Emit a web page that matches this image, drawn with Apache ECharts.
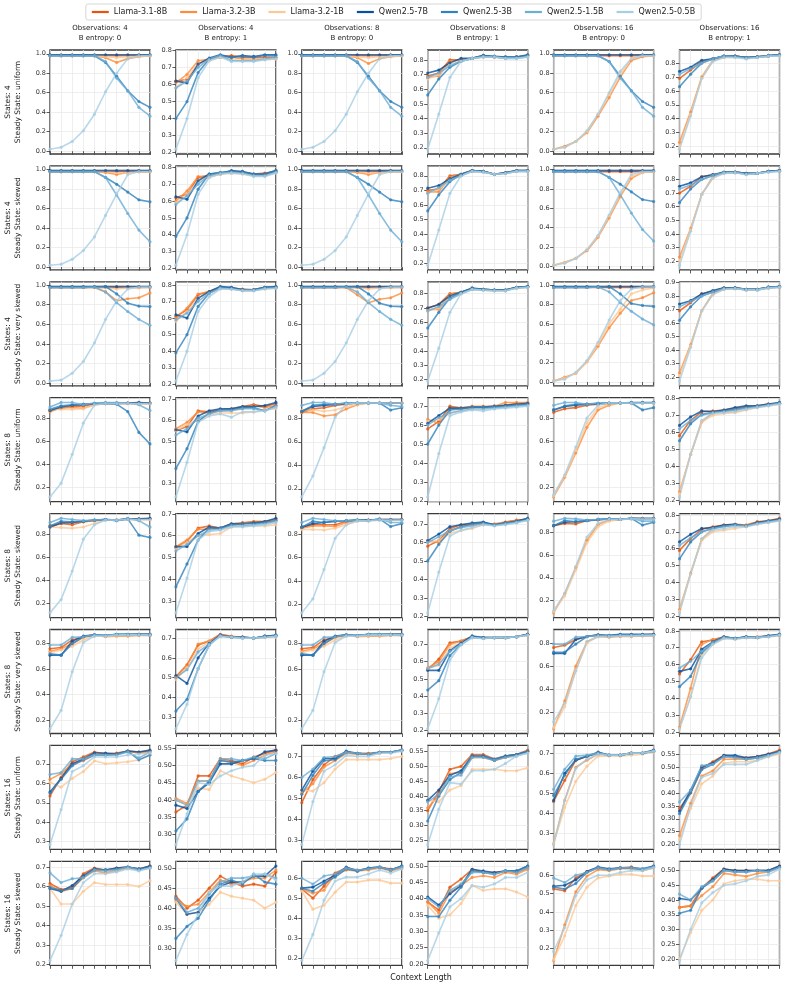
<!DOCTYPE html>
<html>
<head>
<meta charset="utf-8">
<script src="https://cdn.jsdelivr.net/npm/echarts@6/dist/echarts.min.js"></script>
<style>
  html, body { margin: 0; padding: 0; background: #fff; }
  #chart { width: 787px; height: 990px; }
</style>
</head>
<body>
<div id="chart"></div>
<script>
const models = ["Llama-3.1-8B", "Llama-3.2-3B", "Llama-3.2-1B", "Qwen2.5-7B", "Qwen2.5-3B", "Qwen2.5-1.5B", "Qwen2.5-0.5B"];
const colors = ["#e6550d", "#fd8d3c", "#fdc896", "#08519c", "#3182bd", "#6baed6", "#a6cee4"];
const contextSteps = [0, 1, 2, 3, 4, 5, 6, 7, 8, 9];
const colTitles = [
  ["Observations: 4", "B entropy: 0"], ["Observations: 4", "B entropy: 1"],
  ["Observations: 8", "B entropy: 0"], ["Observations: 8", "B entropy: 1"],
  ["Observations: 16", "B entropy: 0"], ["Observations: 16", "B entropy: 1"]
];
const rowLabels = [
  ["States: 4", "Steady State: uniform"], ["States: 4", "Steady State: skewed"],
  ["States: 4", "Steady State: very skewed"], ["States: 8", "Steady State: uniform"],
  ["States: 8", "Steady State: skewed"], ["States: 8", "Steady State: very skewed"],
  ["States: 16", "Steady State: uniform"], ["States: 16", "Steady State: skewed"]
];
// y tick step per row/col
const tickSteps = [
  [0.2, 0.1, 0.2, 0.1, 0.2, 0.1],
  [0.2, 0.1, 0.2, 0.1, 0.2, 0.1],
  [0.2, 0.1, 0.2, 0.1, 0.2, 0.1],
  [0.2, 0.1, 0.2, 0.1, 0.2, 0.1],
  [0.2, 0.1, 0.2, 0.1, 0.2, 0.1],
  [0.2, 0.1, 0.2, 0.1, 0.2, 0.1],
  [0.1, 0.05, 0.1, 0.05, 0.1, 0.05],
  [0.1, 0.05, 0.1, 0.05, 0.1, 0.05]
];

// each panel: one row per model, in the order of `models`
// --- States 4, uniform ---
const r1c1 = [
  [0.98,0.98,0.98,0.98,0.98,0.98,0.98,0.98,0.98,0.98],
  [0.98,0.98,0.98,0.98,0.98,0.96,0.91,0.95,0.97,0.98],
  [0.98,0.98,0.98,0.98,0.98,0.97,0.96,0.97,0.97,0.98],
  [0.99,0.99,0.99,0.99,0.99,0.99,0.99,0.99,0.99,0.99],
  [0.98,0.98,0.98,0.98,0.98,0.91,0.77,0.62,0.51,0.45],
  [0.98,0.98,0.98,0.98,0.98,0.92,0.75,0.62,0.45,0.36],
  [0.02,0.04,0.10,0.21,0.38,0.61,0.80,0.95,0.98,0.98]
];
const r1c2 = [
  [0.62,0.63,0.72,0.75,0.76,0.77,0.76,0.76,0.76,0.76],
  [0.61,0.66,0.74,0.75,0.76,0.76,0.75,0.75,0.75,0.75],
  [0.58,0.64,0.72,0.74,0.76,0.75,0.74,0.74,0.75,0.75],
  [0.62,0.61,0.72,0.755,0.775,0.76,0.77,0.765,0.775,0.775],
  [0.40,0.50,0.67,0.75,0.77,0.76,0.765,0.76,0.77,0.77],
  [0.58,0.62,0.70,0.75,0.77,0.74,0.74,0.74,0.75,0.76],
  [0.22,0.40,0.64,0.74,0.76,0.735,0.735,0.735,0.745,0.75]
];
const r1c3 = [
  [0.98,0.98,0.98,0.98,0.98,0.98,0.98,0.98,0.98,0.98],
  [0.98,0.98,0.98,0.98,0.98,0.96,0.90,0.95,0.97,0.98],
  [0.98,0.98,0.98,0.98,0.98,0.97,0.96,0.97,0.97,0.98],
  [0.99,0.99,0.99,0.99,0.99,0.99,0.99,0.99,0.99,0.99],
  [0.98,0.98,0.98,0.98,0.98,0.91,0.77,0.62,0.51,0.45],
  [0.98,0.98,0.98,0.98,0.98,0.92,0.75,0.62,0.45,0.36],
  [0.02,0.04,0.10,0.21,0.38,0.61,0.80,0.95,0.98,0.98]
];
const r1c4 = [
  [0.69,0.71,0.80,0.80,0.81,0.83,0.82,0.815,0.82,0.83],
  [0.68,0.69,0.79,0.80,0.81,0.82,0.82,0.81,0.82,0.83],
  [0.67,0.70,0.77,0.79,0.81,0.82,0.82,0.81,0.82,0.82],
  [0.71,0.73,0.78,0.81,0.81,0.83,0.825,0.82,0.82,0.835],
  [0.56,0.67,0.75,0.79,0.81,0.83,0.82,0.82,0.82,0.83],
  [0.68,0.71,0.76,0.79,0.81,0.82,0.82,0.81,0.81,0.82],
  [0.19,0.43,0.68,0.79,0.81,0.82,0.82,0.81,0.81,0.82]
];
const r1c5 = [
  [0.98,0.98,0.98,0.98,0.98,0.98,0.98,0.98,0.98,0.98],
  [0.02,0.05,0.10,0.19,0.36,0.55,0.76,0.93,0.97,0.98],
  [0.02,0.04,0.10,0.20,0.38,0.58,0.79,0.95,0.98,0.98],
  [0.99,0.99,0.99,0.99,0.99,0.99,0.99,0.99,0.99,0.99],
  [0.98,0.98,0.98,0.98,0.98,0.92,0.77,0.62,0.51,0.45],
  [0.98,0.98,0.98,0.98,0.98,0.92,0.75,0.62,0.45,0.36],
  [0.02,0.04,0.10,0.21,0.38,0.60,0.82,0.95,0.98,0.98]
];
const r1c6 = [
  [0.69,0.75,0.81,0.83,0.85,0.85,0.84,0.845,0.85,0.86],
  [0.23,0.45,0.70,0.82,0.84,0.85,0.84,0.845,0.85,0.855],
  [0.20,0.43,0.69,0.82,0.84,0.84,0.835,0.84,0.85,0.85],
  [0.74,0.77,0.82,0.83,0.85,0.85,0.84,0.845,0.855,0.86],
  [0.63,0.72,0.80,0.83,0.85,0.85,0.84,0.845,0.85,0.86],
  [0.72,0.76,0.80,0.83,0.85,0.845,0.835,0.84,0.85,0.855],
  [0.18,0.42,0.69,0.81,0.84,0.84,0.83,0.84,0.85,0.85]
];
// --- States 4, skewed ---
const r2c1 = [
  [0.98,0.98,0.98,0.98,0.98,0.98,0.98,0.98,0.98,0.98],
  [0.98,0.98,0.98,0.98,0.98,0.97,0.95,0.97,0.98,0.98],
  [0.98,0.98,0.98,0.98,0.98,0.98,0.97,0.97,0.98,0.98],
  [0.99,0.99,0.99,0.99,0.99,0.99,0.99,0.99,0.99,0.99],
  [0.98,0.98,0.98,0.98,0.98,0.92,0.85,0.77,0.69,0.67],
  [0.98,0.98,0.98,0.98,0.98,0.92,0.74,0.55,0.38,0.26],
  [0.02,0.03,0.08,0.17,0.31,0.53,0.75,0.95,0.98,0.98]
];
const r2c2 = [
  [0.62,0.64,0.74,0.75,0.76,0.775,0.77,0.76,0.765,0.775],
  [0.60,0.66,0.745,0.75,0.76,0.77,0.765,0.755,0.76,0.77],
  [0.59,0.64,0.72,0.74,0.76,0.765,0.76,0.75,0.75,0.77],
  [0.625,0.61,0.72,0.76,0.765,0.78,0.775,0.76,0.76,0.78],
  [0.39,0.50,0.67,0.76,0.77,0.775,0.77,0.76,0.76,0.78],
  [0.58,0.63,0.70,0.75,0.765,0.77,0.765,0.75,0.75,0.77],
  [0.22,0.40,0.64,0.74,0.76,0.765,0.76,0.745,0.745,0.765]
];
const r2c3 = [
  [0.98,0.98,0.98,0.98,0.98,0.98,0.98,0.98,0.98,0.98],
  [0.98,0.98,0.98,0.98,0.98,0.97,0.95,0.97,0.98,0.98],
  [0.98,0.98,0.98,0.98,0.98,0.98,0.97,0.97,0.98,0.98],
  [0.99,0.99,0.99,0.99,0.99,0.99,0.99,0.99,0.99,0.99],
  [0.98,0.98,0.98,0.98,0.98,0.92,0.85,0.77,0.69,0.67],
  [0.98,0.98,0.98,0.98,0.98,0.92,0.74,0.55,0.38,0.26],
  [0.02,0.03,0.08,0.17,0.31,0.53,0.75,0.95,0.98,0.98]
];
const r2c4 = [
  [0.70,0.71,0.80,0.81,0.835,0.83,0.81,0.82,0.835,0.835],
  [0.69,0.69,0.79,0.81,0.83,0.83,0.81,0.82,0.83,0.835],
  [0.68,0.71,0.77,0.80,0.83,0.825,0.81,0.815,0.83,0.83],
  [0.715,0.733,0.78,0.81,0.835,0.83,0.81,0.82,0.835,0.835],
  [0.56,0.67,0.76,0.81,0.835,0.83,0.81,0.82,0.835,0.835],
  [0.68,0.72,0.77,0.80,0.83,0.825,0.81,0.815,0.83,0.83],
  [0.19,0.43,0.68,0.80,0.83,0.825,0.81,0.815,0.83,0.83]
];
const r2c5 = [
  [0.98,0.98,0.98,0.98,0.98,0.98,0.98,0.98,0.98,0.98],
  [0.01,0.04,0.08,0.16,0.30,0.50,0.72,0.91,0.97,0.98],
  [0.01,0.04,0.08,0.17,0.31,0.52,0.74,0.93,0.97,0.98],
  [0.99,0.99,0.99,0.99,0.99,0.99,0.99,0.99,0.99,0.99],
  [0.98,0.98,0.98,0.98,0.98,0.92,0.85,0.77,0.69,0.67],
  [0.98,0.98,0.98,0.98,0.98,0.92,0.74,0.55,0.38,0.26],
  [0.01,0.03,0.08,0.17,0.32,0.53,0.76,0.95,0.98,0.98]
];
const r2c6 = [
  [0.70,0.75,0.82,0.835,0.85,0.855,0.845,0.845,0.86,0.865],
  [0.23,0.44,0.69,0.82,0.85,0.85,0.84,0.845,0.86,0.86],
  [0.20,0.43,0.69,0.81,0.845,0.85,0.84,0.845,0.855,0.86],
  [0.75,0.775,0.82,0.835,0.855,0.855,0.845,0.845,0.86,0.865],
  [0.63,0.73,0.80,0.83,0.85,0.855,0.845,0.845,0.86,0.865],
  [0.73,0.76,0.80,0.83,0.85,0.85,0.84,0.845,0.855,0.86],
  [0.17,0.42,0.69,0.81,0.845,0.85,0.835,0.845,0.855,0.86]
];
// --- States 4, very skewed ---
const r3c1 = [
  [0.975,0.975,0.975,0.975,0.975,0.975,0.975,0.975,0.975,0.975],
  [0.975,0.975,0.975,0.975,0.975,0.93,0.84,0.86,0.87,0.92],
  [0.975,0.975,0.975,0.975,0.975,0.97,0.96,0.97,0.97,0.98],
  [0.985,0.985,0.985,0.985,0.985,0.985,0.985,0.985,0.985,0.985],
  [0.975,0.975,0.975,0.975,0.98,0.985,0.91,0.815,0.785,0.78],
  [0.975,0.975,0.975,0.975,0.98,0.93,0.82,0.73,0.65,0.59],
  [0.02,0.03,0.10,0.22,0.41,0.65,0.84,0.96,0.98,0.98]
];
const r3c2 = [
  [0.61,0.65,0.74,0.76,0.785,0.78,0.775,0.77,0.785,0.785],
  [0.60,0.66,0.745,0.76,0.78,0.78,0.77,0.77,0.78,0.785],
  [0.58,0.64,0.72,0.75,0.78,0.775,0.765,0.765,0.775,0.78],
  [0.62,0.60,0.72,0.76,0.79,0.785,0.77,0.77,0.785,0.79],
  [0.39,0.50,0.67,0.75,0.785,0.78,0.77,0.77,0.785,0.785],
  [0.59,0.63,0.70,0.75,0.78,0.775,0.765,0.765,0.78,0.78],
  [0.22,0.40,0.64,0.73,0.775,0.775,0.765,0.765,0.775,0.78]
];
const r3c3 = [
  [0.975,0.975,0.975,0.975,0.975,0.975,0.975,0.975,0.975,0.975],
  [0.975,0.975,0.975,0.975,0.975,0.90,0.82,0.855,0.87,0.92],
  [0.975,0.975,0.975,0.975,0.975,0.97,0.96,0.97,0.97,0.98],
  [0.985,0.985,0.985,0.985,0.985,0.985,0.985,0.985,0.985,0.985],
  [0.975,0.975,0.975,0.975,0.98,0.985,0.91,0.815,0.785,0.78],
  [0.975,0.975,0.975,0.975,0.98,0.93,0.82,0.73,0.65,0.59],
  [0.02,0.03,0.10,0.22,0.41,0.65,0.84,0.96,0.98,0.98]
];
const r3c4 = [
  [0.70,0.725,0.80,0.81,0.835,0.83,0.825,0.825,0.845,0.85],
  [0.69,0.69,0.795,0.81,0.835,0.83,0.825,0.825,0.84,0.845],
  [0.68,0.70,0.78,0.80,0.83,0.825,0.82,0.82,0.84,0.845],
  [0.70,0.725,0.785,0.81,0.84,0.83,0.825,0.825,0.845,0.85],
  [0.56,0.67,0.77,0.81,0.835,0.83,0.825,0.825,0.845,0.85],
  [0.68,0.71,0.76,0.80,0.83,0.825,0.82,0.82,0.84,0.845],
  [0.19,0.42,0.67,0.80,0.83,0.825,0.82,0.82,0.84,0.845]
];
const r3c5 = [
  [0.975,0.975,0.975,0.975,0.975,0.975,0.975,0.975,0.975,0.975],
  [0.01,0.05,0.09,0.21,0.37,0.56,0.71,0.84,0.87,0.92],
  [0.01,0.04,0.09,0.21,0.39,0.60,0.75,0.91,0.95,0.97],
  [0.985,0.985,0.985,0.985,0.985,0.985,0.985,0.985,0.985,0.985],
  [0.975,0.975,0.975,0.975,0.98,0.985,0.91,0.81,0.79,0.78],
  [0.975,0.975,0.975,0.975,0.98,0.93,0.82,0.73,0.65,0.59],
  [0.01,0.03,0.10,0.22,0.41,0.64,0.84,0.96,0.98,0.98]
];
const r3c6 = [
  [0.69,0.75,0.815,0.835,0.86,0.86,0.85,0.85,0.865,0.87],
  [0.23,0.44,0.69,0.82,0.85,0.855,0.845,0.845,0.86,0.865],
  [0.21,0.43,0.69,0.81,0.85,0.855,0.845,0.845,0.86,0.865],
  [0.74,0.765,0.815,0.84,0.86,0.86,0.85,0.85,0.865,0.87],
  [0.62,0.72,0.80,0.83,0.855,0.86,0.85,0.85,0.865,0.87],
  [0.72,0.76,0.80,0.83,0.855,0.855,0.845,0.845,0.86,0.865],
  [0.17,0.42,0.69,0.81,0.85,0.855,0.845,0.845,0.86,0.865]
];
// --- States 8, uniform ---
const r4c1 = [
  [0.87,0.89,0.905,0.91,0.925,0.93,0.93,0.935,0.935,0.935],
  [0.86,0.895,0.895,0.89,0.92,0.93,0.93,0.93,0.93,0.93],
  [0.88,0.88,0.88,0.885,0.92,0.93,0.93,0.93,0.93,0.93],
  [0.87,0.90,0.915,0.92,0.93,0.935,0.935,0.935,0.94,0.935],
  [0.88,0.91,0.92,0.925,0.93,0.93,0.925,0.86,0.68,0.58],
  [0.90,0.94,0.94,0.92,0.935,0.94,0.94,0.935,0.92,0.87],
  [0.12,0.24,0.49,0.76,0.92,0.93,0.93,0.93,0.93,0.93]
];
const r4c2 = [
  [0.55,0.57,0.645,0.64,0.65,0.655,0.665,0.675,0.665,0.68],
  [0.56,0.59,0.64,0.635,0.645,0.65,0.655,0.67,0.66,0.67],
  [0.55,0.58,0.60,0.625,0.635,0.635,0.635,0.64,0.65,0.655],
  [0.555,0.545,0.62,0.645,0.655,0.655,0.665,0.665,0.67,0.685],
  [0.37,0.465,0.595,0.635,0.65,0.65,0.66,0.66,0.645,0.67],
  [0.53,0.56,0.61,0.63,0.645,0.645,0.655,0.655,0.645,0.665],
  [0.235,0.40,0.59,0.62,0.63,0.615,0.64,0.64,0.645,0.66]
];
const r4c3 = [
  [0.85,0.88,0.89,0.91,0.92,0.93,0.93,0.93,0.93,0.93],
  [0.85,0.85,0.82,0.83,0.88,0.915,0.93,0.93,0.93,0.93],
  [0.87,0.87,0.86,0.87,0.90,0.92,0.93,0.93,0.93,0.93],
  [0.86,0.90,0.91,0.92,0.925,0.93,0.93,0.93,0.93,0.93],
  [0.86,0.91,0.92,0.92,0.93,0.93,0.93,0.93,0.87,0.89],
  [0.91,0.935,0.935,0.92,0.93,0.93,0.93,0.93,0.91,0.90],
  [0.13,0.31,0.55,0.81,0.92,0.93,0.93,0.93,0.93,0.93]
];
const r4c4 = [
  [0.58,0.62,0.70,0.69,0.695,0.695,0.70,0.705,0.715,0.715],
  [0.63,0.61,0.69,0.69,0.70,0.70,0.70,0.72,0.72,0.72],
  [0.62,0.63,0.66,0.68,0.69,0.69,0.70,0.70,0.71,0.71],
  [0.61,0.65,0.69,0.69,0.695,0.695,0.70,0.705,0.71,0.715],
  [0.50,0.60,0.68,0.685,0.695,0.695,0.695,0.70,0.705,0.71],
  [0.60,0.64,0.665,0.675,0.685,0.685,0.69,0.695,0.70,0.705],
  [0.22,0.45,0.65,0.67,0.68,0.675,0.685,0.69,0.695,0.70]
];
const r4c5 = [
  [0.85,0.88,0.89,0.91,0.92,0.925,0.93,0.93,0.93,0.93],
  [0.12,0.29,0.50,0.72,0.87,0.91,0.93,0.93,0.93,0.93],
  [0.13,0.30,0.52,0.76,0.89,0.92,0.93,0.93,0.93,0.93],
  [0.87,0.90,0.91,0.92,0.925,0.93,0.93,0.935,0.935,0.935],
  [0.87,0.905,0.92,0.92,0.925,0.93,0.93,0.93,0.87,0.89],
  [0.91,0.935,0.935,0.92,0.93,0.93,0.93,0.93,0.93,0.93],
  [0.14,0.31,0.55,0.80,0.91,0.93,0.93,0.93,0.93,0.93]
];
const r4c6 = [
  [0.58,0.67,0.72,0.725,0.73,0.74,0.75,0.755,0.765,0.77],
  [0.25,0.47,0.66,0.715,0.725,0.73,0.745,0.75,0.765,0.77],
  [0.24,0.47,0.66,0.70,0.71,0.715,0.73,0.745,0.755,0.765],
  [0.64,0.69,0.725,0.72,0.73,0.745,0.755,0.755,0.765,0.775],
  [0.55,0.65,0.705,0.715,0.725,0.735,0.745,0.75,0.76,0.77],
  [0.62,0.67,0.70,0.715,0.72,0.73,0.74,0.75,0.76,0.77],
  [0.22,0.47,0.67,0.71,0.715,0.72,0.735,0.745,0.755,0.765]
];
// --- States 8, skewed ---
const r5c1 = [
  [0.87,0.89,0.88,0.905,0.915,0.925,0.92,0.93,0.93,0.93],
  [0.86,0.89,0.895,0.905,0.915,0.92,0.92,0.925,0.925,0.925],
  [0.86,0.855,0.85,0.86,0.89,0.92,0.92,0.925,0.925,0.925],
  [0.86,0.895,0.90,0.91,0.92,0.925,0.92,0.93,0.93,0.935],
  [0.87,0.91,0.905,0.91,0.92,0.925,0.915,0.93,0.79,0.77],
  [0.90,0.935,0.925,0.915,0.92,0.925,0.915,0.935,0.915,0.86],
  [0.12,0.235,0.48,0.755,0.88,0.92,0.92,0.925,0.925,0.925]
];
const r5c2 = [
  [0.545,0.575,0.635,0.645,0.635,0.655,0.66,0.665,0.665,0.675],
  [0.55,0.58,0.63,0.63,0.635,0.65,0.655,0.665,0.665,0.67],
  [0.54,0.57,0.60,0.605,0.61,0.64,0.645,0.645,0.645,0.65],
  [0.55,0.55,0.61,0.64,0.635,0.655,0.655,0.66,0.665,0.68],
  [0.365,0.47,0.58,0.635,0.635,0.65,0.655,0.655,0.66,0.67],
  [0.53,0.56,0.60,0.625,0.63,0.645,0.645,0.65,0.655,0.665],
  [0.245,0.405,0.58,0.62,0.625,0.64,0.64,0.645,0.65,0.66]
];
const r5c3 = [
  [0.86,0.88,0.88,0.88,0.91,0.92,0.92,0.925,0.925,0.925],
  [0.85,0.87,0.87,0.865,0.90,0.915,0.92,0.92,0.92,0.92],
  [0.84,0.84,0.835,0.85,0.88,0.91,0.915,0.92,0.92,0.92],
  [0.86,0.89,0.90,0.91,0.915,0.92,0.92,0.925,0.925,0.925],
  [0.86,0.91,0.90,0.91,0.915,0.92,0.915,0.93,0.865,0.89],
  [0.90,0.935,0.925,0.915,0.915,0.92,0.915,0.93,0.90,0.90],
  [0.13,0.25,0.50,0.765,0.88,0.915,0.915,0.92,0.92,0.92]
];
const r5c4 = [
  [0.58,0.61,0.675,0.695,0.70,0.705,0.695,0.71,0.72,0.725],
  [0.61,0.60,0.665,0.685,0.695,0.70,0.70,0.71,0.72,0.725],
  [0.60,0.61,0.65,0.665,0.675,0.695,0.695,0.70,0.71,0.72],
  [0.61,0.645,0.685,0.695,0.705,0.71,0.695,0.705,0.715,0.73],
  [0.50,0.59,0.66,0.685,0.70,0.705,0.695,0.705,0.71,0.725],
  [0.60,0.63,0.665,0.68,0.69,0.70,0.69,0.70,0.71,0.72],
  [0.22,0.44,0.635,0.665,0.68,0.695,0.69,0.695,0.705,0.72]
];
const r5c5 = [
  [0.86,0.88,0.875,0.905,0.91,0.92,0.915,0.925,0.92,0.92],
  [0.09,0.26,0.49,0.73,0.87,0.91,0.915,0.92,0.92,0.92],
  [0.10,0.24,0.47,0.71,0.85,0.90,0.915,0.92,0.92,0.92],
  [0.86,0.89,0.895,0.905,0.915,0.92,0.915,0.925,0.925,0.925],
  [0.86,0.905,0.895,0.905,0.915,0.92,0.915,0.925,0.865,0.89],
  [0.90,0.925,0.92,0.91,0.915,0.92,0.915,0.925,0.90,0.90],
  [0.11,0.26,0.50,0.76,0.88,0.915,0.915,0.92,0.92,0.92]
];
const r5c6 = [
  [0.59,0.66,0.715,0.73,0.74,0.745,0.74,0.76,0.765,0.78],
  [0.24,0.455,0.655,0.72,0.735,0.74,0.74,0.75,0.76,0.77],
  [0.23,0.45,0.65,0.70,0.71,0.72,0.73,0.745,0.755,0.765],
  [0.64,0.685,0.72,0.725,0.74,0.745,0.735,0.755,0.765,0.775],
  [0.54,0.64,0.70,0.72,0.735,0.74,0.735,0.75,0.76,0.77],
  [0.62,0.665,0.70,0.72,0.73,0.74,0.735,0.75,0.76,0.77],
  [0.22,0.45,0.66,0.71,0.72,0.73,0.73,0.745,0.755,0.765]
];
// --- States 8, very skewed ---
const r6c1 = [
  [0.76,0.77,0.83,0.855,0.87,0.86,0.87,0.87,0.875,0.875],
  [0.74,0.76,0.80,0.85,0.865,0.855,0.86,0.86,0.865,0.865],
  [0.73,0.75,0.78,0.83,0.86,0.86,0.865,0.865,0.87,0.87],
  [0.71,0.71,0.82,0.86,0.87,0.865,0.875,0.875,0.875,0.875],
  [0.72,0.71,0.80,0.855,0.87,0.865,0.875,0.875,0.875,0.875],
  [0.79,0.79,0.85,0.855,0.87,0.865,0.87,0.87,0.87,0.865],
  [0.13,0.275,0.58,0.81,0.86,0.86,0.87,0.87,0.87,0.87]
];
const r6c2 = [
  [0.505,0.565,0.665,0.685,0.72,0.71,0.705,0.70,0.71,0.71],
  [0.50,0.56,0.67,0.685,0.715,0.705,0.705,0.70,0.705,0.71],
  [0.49,0.55,0.645,0.68,0.71,0.705,0.70,0.70,0.705,0.71],
  [0.51,0.47,0.60,0.675,0.715,0.705,0.705,0.70,0.71,0.715],
  [0.33,0.39,0.545,0.665,0.715,0.705,0.705,0.70,0.71,0.715],
  [0.50,0.54,0.63,0.67,0.71,0.705,0.70,0.70,0.705,0.71],
  [0.24,0.365,0.545,0.665,0.71,0.705,0.70,0.70,0.705,0.71]
];
const r6c3 = [
  [0.76,0.77,0.83,0.855,0.87,0.86,0.87,0.87,0.875,0.875],
  [0.74,0.76,0.80,0.85,0.865,0.855,0.86,0.86,0.865,0.865],
  [0.73,0.75,0.78,0.83,0.86,0.86,0.865,0.865,0.87,0.87],
  [0.71,0.71,0.82,0.86,0.87,0.865,0.875,0.875,0.875,0.875],
  [0.72,0.71,0.80,0.855,0.87,0.865,0.875,0.875,0.875,0.875],
  [0.79,0.79,0.85,0.855,0.87,0.865,0.87,0.87,0.87,0.865],
  [0.13,0.275,0.58,0.81,0.86,0.86,0.87,0.87,0.87,0.87]
];
const r6c4 = [
  [0.555,0.615,0.71,0.72,0.745,0.735,0.74,0.74,0.745,0.76],
  [0.565,0.60,0.70,0.72,0.745,0.74,0.74,0.74,0.745,0.755],
  [0.56,0.58,0.68,0.71,0.745,0.735,0.74,0.74,0.745,0.755],
  [0.55,0.55,0.665,0.71,0.75,0.74,0.74,0.74,0.745,0.76],
  [0.435,0.49,0.635,0.70,0.745,0.74,0.74,0.74,0.745,0.76],
  [0.56,0.585,0.66,0.70,0.74,0.735,0.74,0.74,0.745,0.755],
  [0.21,0.385,0.61,0.70,0.74,0.735,0.74,0.74,0.745,0.755]
];
const r6c5 = [
  [0.76,0.78,0.83,0.855,0.87,0.855,0.87,0.87,0.87,0.875],
  [0.06,0.30,0.60,0.81,0.855,0.85,0.855,0.855,0.86,0.86],
  [0.07,0.25,0.56,0.80,0.855,0.855,0.86,0.86,0.865,0.865],
  [0.71,0.71,0.83,0.855,0.87,0.865,0.875,0.875,0.875,0.875],
  [0.72,0.72,0.79,0.855,0.865,0.86,0.87,0.87,0.87,0.87],
  [0.79,0.79,0.85,0.855,0.865,0.86,0.865,0.865,0.865,0.865],
  [0.12,0.28,0.56,0.81,0.855,0.855,0.86,0.86,0.865,0.865]
];
const r6c6 = [
  [0.545,0.63,0.735,0.745,0.765,0.755,0.765,0.765,0.77,0.775],
  [0.23,0.46,0.72,0.75,0.76,0.755,0.76,0.76,0.765,0.775],
  [0.22,0.41,0.66,0.72,0.755,0.75,0.76,0.76,0.765,0.77],
  [0.56,0.575,0.69,0.735,0.765,0.755,0.765,0.76,0.77,0.78],
  [0.47,0.53,0.67,0.73,0.765,0.755,0.765,0.76,0.77,0.775],
  [0.58,0.62,0.68,0.73,0.76,0.755,0.76,0.76,0.765,0.775],
  [0.22,0.41,0.64,0.72,0.755,0.75,0.76,0.76,0.765,0.775]
];
// --- States 16, uniform ---
const r7c1 = [
  [0.535,0.63,0.71,0.735,0.76,0.75,0.755,0.765,0.76,0.765],
  [0.62,0.65,0.70,0.715,0.745,0.745,0.745,0.765,0.755,0.76],
  [0.605,0.58,0.625,0.66,0.715,0.70,0.705,0.71,0.72,0.745],
  [0.555,0.625,0.70,0.725,0.755,0.755,0.75,0.765,0.76,0.77],
  [0.55,0.62,0.69,0.72,0.745,0.745,0.75,0.765,0.72,0.745],
  [0.645,0.655,0.725,0.725,0.745,0.745,0.745,0.76,0.73,0.76],
  [0.285,0.465,0.66,0.69,0.735,0.735,0.735,0.745,0.75,0.755]
];
const r7c2 = [
  [0.365,0.385,0.47,0.47,0.52,0.515,0.505,0.525,0.535,0.545],
  [0.405,0.39,0.455,0.455,0.515,0.51,0.50,0.515,0.53,0.54],
  [0.40,0.385,0.435,0.43,0.485,0.47,0.46,0.45,0.46,0.48],
  [0.385,0.375,0.425,0.45,0.505,0.505,0.515,0.52,0.54,0.545],
  [0.31,0.345,0.425,0.455,0.515,0.51,0.515,0.52,0.515,0.515],
  [0.40,0.385,0.455,0.455,0.52,0.52,0.515,0.525,0.52,0.535],
  [0.27,0.36,0.45,0.445,0.47,0.485,0.495,0.50,0.53,0.535]
];
const r7c3 = [
  [0.48,0.59,0.66,0.70,0.72,0.715,0.715,0.72,0.72,0.73],
  [0.525,0.57,0.65,0.68,0.715,0.71,0.71,0.715,0.72,0.73],
  [0.54,0.535,0.575,0.64,0.685,0.685,0.685,0.685,0.69,0.70],
  [0.54,0.63,0.69,0.69,0.725,0.715,0.71,0.72,0.72,0.73],
  [0.52,0.61,0.68,0.685,0.72,0.715,0.71,0.72,0.72,0.73],
  [0.60,0.64,0.695,0.70,0.72,0.715,0.71,0.72,0.72,0.73],
  [0.28,0.485,0.63,0.66,0.705,0.70,0.70,0.715,0.715,0.725]
];
const r7c4 = [
  [0.35,0.415,0.49,0.50,0.54,0.54,0.525,0.535,0.54,0.555],
  [0.36,0.40,0.475,0.48,0.53,0.53,0.52,0.53,0.54,0.55],
  [0.385,0.38,0.42,0.435,0.49,0.49,0.49,0.485,0.485,0.495],
  [0.385,0.42,0.47,0.485,0.535,0.535,0.52,0.535,0.54,0.55],
  [0.315,0.40,0.455,0.48,0.535,0.535,0.525,0.535,0.54,0.55],
  [0.38,0.405,0.465,0.47,0.53,0.53,0.52,0.53,0.535,0.545],
  [0.235,0.355,0.445,0.44,0.485,0.485,0.49,0.51,0.535,0.545]
];
const r7c5 = [
  [0.46,0.565,0.665,0.685,0.70,0.69,0.69,0.70,0.70,0.71],
  [0.25,0.465,0.63,0.665,0.695,0.69,0.69,0.70,0.70,0.71],
  [0.25,0.43,0.56,0.635,0.685,0.685,0.685,0.69,0.695,0.705],
  [0.465,0.60,0.665,0.685,0.705,0.69,0.69,0.70,0.70,0.715],
  [0.49,0.59,0.67,0.685,0.70,0.69,0.69,0.70,0.70,0.71],
  [0.52,0.62,0.685,0.69,0.70,0.69,0.69,0.70,0.70,0.71],
  [0.245,0.465,0.625,0.67,0.695,0.69,0.69,0.70,0.70,0.71]
];
const r7c6 = [
  [0.34,0.40,0.495,0.52,0.545,0.54,0.535,0.54,0.55,0.565],
  [0.235,0.36,0.465,0.485,0.53,0.53,0.53,0.535,0.54,0.555],
  [0.22,0.34,0.435,0.465,0.515,0.52,0.52,0.525,0.54,0.55],
  [0.33,0.41,0.50,0.515,0.545,0.545,0.535,0.54,0.55,0.56],
  [0.32,0.40,0.49,0.51,0.54,0.54,0.53,0.535,0.545,0.56],
  [0.365,0.41,0.505,0.51,0.54,0.535,0.53,0.535,0.545,0.555],
  [0.20,0.35,0.46,0.475,0.51,0.51,0.51,0.525,0.54,0.555]
];
// --- States 16, skewed ---
const r8c1 = [
  [0.615,0.585,0.595,0.665,0.695,0.685,0.695,0.70,0.69,0.705],
  [0.605,0.575,0.59,0.645,0.68,0.67,0.68,0.695,0.685,0.695],
  [0.59,0.51,0.51,0.575,0.62,0.61,0.61,0.61,0.60,0.63],
  [0.59,0.575,0.605,0.655,0.69,0.685,0.695,0.70,0.69,0.705],
  [0.595,0.58,0.59,0.65,0.685,0.685,0.69,0.70,0.69,0.70],
  [0.67,0.62,0.64,0.645,0.685,0.68,0.685,0.70,0.685,0.695],
  [0.22,0.35,0.51,0.62,0.665,0.665,0.675,0.69,0.68,0.695]
];
const r8c2 = [
  [0.43,0.40,0.42,0.45,0.48,0.465,0.455,0.46,0.455,0.49],
  [0.42,0.405,0.41,0.44,0.47,0.46,0.465,0.475,0.475,0.495],
  [0.415,0.385,0.39,0.41,0.44,0.43,0.425,0.42,0.40,0.415],
  [0.425,0.385,0.39,0.425,0.455,0.465,0.465,0.48,0.48,0.505],
  [0.325,0.355,0.375,0.42,0.46,0.47,0.46,0.485,0.465,0.46],
  [0.425,0.39,0.40,0.435,0.465,0.475,0.475,0.48,0.485,0.475],
  [0.27,0.335,0.385,0.44,0.455,0.455,0.465,0.485,0.485,0.47]
];
const r8c3 = [
  [0.545,0.50,0.56,0.625,0.65,0.64,0.645,0.655,0.645,0.65],
  [0.545,0.525,0.54,0.62,0.64,0.635,0.64,0.65,0.635,0.65],
  [0.535,0.445,0.465,0.53,0.58,0.58,0.59,0.59,0.575,0.575],
  [0.55,0.555,0.585,0.615,0.655,0.635,0.65,0.655,0.64,0.66],
  [0.55,0.535,0.575,0.605,0.645,0.635,0.65,0.655,0.64,0.66],
  [0.60,0.57,0.61,0.62,0.65,0.64,0.645,0.655,0.64,0.655],
  [0.19,0.32,0.49,0.585,0.605,0.605,0.62,0.64,0.625,0.645]
];
const r8c4 = [
  [0.39,0.365,0.435,0.46,0.49,0.48,0.48,0.485,0.48,0.495],
  [0.39,0.355,0.42,0.44,0.465,0.47,0.465,0.48,0.475,0.49],
  [0.38,0.34,0.35,0.385,0.44,0.425,0.43,0.43,0.42,0.405],
  [0.405,0.38,0.415,0.44,0.49,0.485,0.48,0.485,0.485,0.50],
  [0.345,0.345,0.395,0.435,0.485,0.48,0.475,0.485,0.485,0.50],
  [0.40,0.375,0.425,0.445,0.48,0.48,0.475,0.485,0.48,0.495],
  [0.21,0.295,0.375,0.40,0.44,0.435,0.445,0.465,0.465,0.48]
];
const r8c5 = [
  [0.525,0.515,0.585,0.62,0.64,0.63,0.64,0.645,0.63,0.645],
  [0.135,0.33,0.51,0.595,0.63,0.625,0.635,0.635,0.625,0.64],
  [0.14,0.27,0.435,0.535,0.585,0.595,0.605,0.605,0.595,0.595],
  [0.54,0.545,0.575,0.62,0.645,0.635,0.64,0.64,0.635,0.65],
  [0.535,0.525,0.555,0.615,0.64,0.63,0.64,0.64,0.63,0.645],
  [0.585,0.56,0.60,0.615,0.64,0.63,0.64,0.64,0.635,0.645],
  [0.185,0.315,0.49,0.575,0.60,0.60,0.615,0.625,0.625,0.64]
];
const r8c6 = [
  [0.375,0.38,0.44,0.475,0.505,0.50,0.50,0.50,0.50,0.515],
  [0.375,0.38,0.415,0.445,0.49,0.485,0.48,0.49,0.495,0.51],
  [0.20,0.29,0.365,0.40,0.455,0.465,0.47,0.47,0.465,0.465],
  [0.405,0.40,0.44,0.47,0.505,0.50,0.50,0.50,0.50,0.515],
  [0.355,0.365,0.44,0.465,0.50,0.495,0.495,0.50,0.50,0.51],
  [0.42,0.40,0.445,0.465,0.50,0.495,0.495,0.50,0.495,0.51],
  [0.195,0.30,0.39,0.425,0.45,0.455,0.465,0.48,0.485,0.505]
];

const panels = [
  [r1c1, r1c2, r1c3, r1c4, r1c5, r1c6],
  [r2c1, r2c2, r2c3, r2c4, r2c5, r2c6],
  [r3c1, r3c2, r3c3, r3c4, r3c5, r3c6],
  [r4c1, r4c2, r4c3, r4c4, r4c5, r4c6],
  [r5c1, r5c2, r5c3, r5c4, r5c5, r5c6],
  [r6c1, r6c2, r6c3, r6c4, r6c5, r6c6],
  [r7c1, r7c2, r7c3, r7c4, r7c5, r7c6],
  [r8c1, r8c2, r8c3, r8c4, r8c5, r8c6]
];

// layout
const FONT = "DejaVu Sans";
const LEFT0 = 50, COL_W = 125.9, PW = 100;
const TOP0 = 50, ROW_H = 115.9, PH = 104;

const grids = [], xAxes = [], yAxes = [], series = [], graphics = [];

panels.forEach((row, r) => {
  row.forEach((panel, c) => {
    const idx = grids.length;
    const left = LEFT0 + c * COL_W;
    const top = TOP0 + r * ROW_H;
    grids.push({
      left: left, top: top, width: PW, height: PH,
      show: true, borderColor: "#3a3a3a", borderWidth: 1.3, backgroundColor: "transparent"
    });
    // matplotlib style 5% margins on y
    let lo = Infinity, hi = -Infinity;
    panel.forEach(s => s.forEach(v => { lo = Math.min(lo, v); hi = Math.max(hi, v); }));
    const pad = (hi - lo) * 0.05;
    const yMin = lo - pad, yMax = hi + pad;
    const step = tickSteps[r][c];
    const ticks = [];
    for (let k = Math.ceil(yMin / step - 1e-9); k * step <= yMax + 1e-9; k++) {
      ticks.push(+(k * step).toFixed(4));
    }
    const dec = step < 0.1 ? 2 : 1;
    xAxes.push({
      type: "value", gridIndex: idx, min: 0, max: 9, interval: 1,
      axisLine: { show: false },
      axisTick: { show: true, inside: false, length: 3.5, lineStyle: { color: "#333", width: 0.8 } },
      axisLabel: { show: false },
      splitLine: { show: true, lineStyle: { color: "#e6e6e6", width: 0.7 } }
    });
    yAxes.push({
      type: "value", gridIndex: idx, min: yMin, max: yMax,
      axisLine: { show: false },
      axisTick: { show: true, length: 3.5, lineStyle: { color: "#333", width: 0.8 }, customValues: ticks },
      axisLabel: {
        show: true, customValues: ticks, fontFamily: FONT, fontSize: 6.5, color: "#333", margin: 4,
        formatter: v => (+v).toFixed(dec)
      },
      splitLine: { show: true, lineStyle: { color: "#e6e6e6", width: 0.7 } }
    });
    panel.forEach((vals, m) => {
      series.push({
        type: "line", name: models[m], xAxisIndex: idx, yAxisIndex: idx,
        data: contextSteps.map((x, i) => [x, vals[i]]),
        symbol: "circle", symbolSize: 3.2, showSymbol: true,
        lineStyle: { color: colors[m], width: 1.6, opacity: 0.8 },
        itemStyle: { color: colors[m], opacity: 0.8 },
        silent: true, animation: false
      });
    });
  });
});

colTitles.forEach((t, c) => {
  graphics.push({
    type: "text", x: LEFT0 + c * COL_W + PW / 2, y: 33,
    style: { text: t.join("\n"), align: "center", verticalAlign: "middle", font: "7px " + FONT, fill: "#222", lineHeight: 10 }
  });
});
rowLabels.forEach((t, r) => {
  graphics.push({
    type: "text", x: 13, y: TOP0 + r * ROW_H + PH / 2, rotation: Math.PI / 2,
    style: { text: t.join("\n"), align: "center", verticalAlign: "middle", font: "7.5px " + FONT, fill: "#222", lineHeight: 10 }
  });
});
graphics.push({
  type: "text", x: 421, y: 978,
  style: { text: "Context Length", align: "center", verticalAlign: "middle", font: "8px " + FONT, fill: "#222" }
});

const chart = echarts.init(document.getElementById("chart"), null, { renderer: "canvas" });
chart.setOption({
  animation: false,
  backgroundColor: "#fff",
  legend: {
    data: models.map((n, i) => ({ name: n, itemStyle: { color: colors[i], opacity: 1 } })),
    left: "center", top: 4, icon: "rect", itemWidth: 17, itemHeight: 2.2, itemGap: 13,
    textStyle: { fontFamily: FONT, fontSize: 8, color: "#222" },
    borderColor: "#ccc", borderWidth: 0.8, borderRadius: 2, padding: [4, 6],
    selectedMode: false
  },
  grid: grids, xAxis: xAxes, yAxis: yAxes, series: series, graphic: graphics
});
</script>
</body>
</html>
